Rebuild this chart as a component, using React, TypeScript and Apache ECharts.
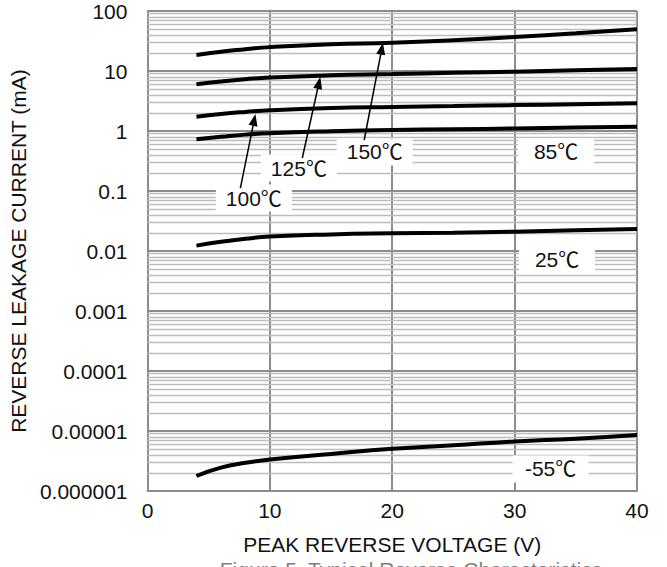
import React, { useEffect, useRef } from "react";
import * as echarts from "echarts";

// Peak reverse voltage (V)
const voltages = [4, 6, 8, 10, 15, 20, 25, 30, 35, 40];
// Reverse leakage current (mA) per temperature
const temp150 = [18.5, 21, 23, 25, 28, 29.5, 32.5, 37, 42.5, 49.5];
const temp125 = [6.0, 6.7, 7.3, 7.8, 8.5, 8.9, 9.35, 9.75, 10.3, 10.8];
const temp100 = [1.73, 1.92, 2.08, 2.22, 2.42, 2.52, 2.6, 2.7, 2.8, 2.9];
const temp85 = [0.73, 0.8, 0.87, 0.92, 0.99, 1.04, 1.07, 1.1, 1.14, 1.18];
const temp25 = [0.0123, 0.0143, 0.016, 0.0174, 0.0189, 0.0197, 0.0202, 0.021, 0.0221, 0.0233];
const tempM55 = [1.78e-6, 2.45e-6, 2.95e-6, 3.35e-6, 4.15e-6, 5.05e-6, 5.8e-6, 6.7e-6, 7.45e-6, 8.6e-6];
const seriesNames = ["150℃", "125℃", "100℃", "85℃", "25℃", "-55℃"];

const xTickLabels = ["0", "10", "20", "30", "40"];
const yTickLabels = ["0.000001", "0.00001", "0.0001", "0.001", "0.01", "0.1", "1", "10", "100"];

// Annotation labels (data coordinates of label centres)
const labelTexts = ["150℃", "125℃", "100℃", "85℃", "25℃", "-55℃"];
const labelX = [18.57, 12.37, 8.69, 33.39, 33.47, 32.94];
const labelY = [0.447, 0.2416, 0.0764, 0.455, 0.00708, 2.33e-6];

// Arrows: tail -> tip (data coordinates)
const arrowFromX = [17.71, 12.65, 7.59];
const arrowFromY = [0.708, 0.355, 0.112];
const arrowToX = [19.24, 14.12, 8.82];
const arrowToY = [29.6, 7.94, 1.92];

const FONT = "'Liberation Sans', Arial, 'Noto Sans CJK JP', sans-serif";

export default function App() {
  const ref = useRef<HTMLDivElement>(null);
  useEffect(() => {
    document.body.style.margin = "0";
    const chart = echarts.init(ref.current!, null, { renderer: "svg" });

    const minorValues: number[] = [];
    for (let e = -6; e < 2; e++) {
      for (let m = 2; m <= 9; m++) minorValues.push(m * Math.pow(10, e));
    }
    const allData = [temp150, temp125, temp100, temp85, temp25, tempM55];
    const curves = allData.map((d, i) => ({
      type: "line",
      name: seriesNames[i],
      data: voltages.map((v, j) => [v, d[j]]),
      smooth: 0.5,
      symbol: "none",
      showSymbol: false,
      silent: true,
      z: 5,
      lineStyle: { color: "#000", width: 4 },
    }));

    chart.setOption({
      animation: false,
      grid: { left: 147, right: 30, top: 11, bottom: 76 },
      xAxis: {
        type: "value",
        min: 0,
        max: 40,
        interval: 10,
        name: "PEAK REVERSE VOLTAGE (V)",
        nameLocation: "middle",
        nameGap: 43,
        nameTextStyle: { fontSize: 21, color: "#111", fontFamily: FONT },
        axisLine: { show: true, lineStyle: { color: "#8c8c8c", width: 2 } },
        axisTick: { show: false },
        axisLabel: {
          margin: 9,
          fontSize: 21,
          color: "#111",
          fontFamily: FONT,
          formatter: (v: number) => xTickLabels[Math.round(v / 10)] ?? "",
        },
        splitLine: { show: true, lineStyle: { color: "#8c8c8c", width: 2 } },
      },
      yAxis: {
        type: "log",
        logBase: 10,
        min: 1e-6,
        max: 100,
        interval: 1,
        splitNumber: 8,
        name: "REVERSE LEAKAGE CURRENT (mA)",
        nameLocation: "middle",
        nameGap: 108,
        nameTextStyle: { fontSize: 21, color: "#111", fontFamily: FONT },
        axisLine: { show: true, lineStyle: { color: "#8c8c8c", width: 2 } },
        axisTick: { show: false },
        axisLabel: {
          margin: 20,
          fontSize: 21,
          color: "#111",
          fontFamily: FONT,
          formatter: (v: number) => yTickLabels[Math.round(Math.log10(v)) + 6] ?? "",
        },
        splitLine: { show: true, lineStyle: { color: "#8c8c8c", width: 2 } },
      },
      series: [
        {
          type: "line",
          data: [],
          z: 1,
          silent: true,
          markLine: {
            symbol: "none",
            silent: true,
            animation: false,
            precision: 12,
            label: { show: false },
            lineStyle: { color: "#bdbdbd", width: 1.4, type: "solid" },
            emphasis: { disabled: true },
            data: minorValues.map((v) => ({ yAxis: v })),
          },
        },
        ...curves,
      ],
    });

    const px = (x: number, y: number) =>
      chart.convertToPixel({ gridIndex: 0 }, [x, y]) as number[];

    const graphics: any[] = [];
    labelTexts.forEach((t, i) => {
      const [cx, cy] = px(labelX[i], labelY[i]);
      graphics.push({
        type: "rect",
        z: 50,
        silent: true,
        shape: { x: cx - 38, y: cy - 13.5, width: 76, height: 27 },
        style: { fill: "#fff" },
      });
      graphics.push({
        type: "text",
        z: 51,
        silent: true,
        x: cx,
        y: cy,
        style: {
          text: t,
          fontSize: 21,
          fontFamily: FONT,
          fill: "#111",
          align: "center",
          verticalAlign: "middle",
        },
      });
    });
    arrowFromX.forEach((_, i) => {
      const [x1, y1] = px(arrowFromX[i], arrowFromY[i]);
      const [x2, y2] = px(arrowToX[i], arrowToY[i]);
      const dx = x2 - x1;
      const dy = y2 - y1;
      const len = Math.sqrt(dx * dx + dy * dy);
      const ux = dx / len;
      const uy = dy / len;
      const hl = 12;
      const hw = 4.5;
      const bx = x2 - ux * hl;
      const by = y2 - uy * hl;
      graphics.push({
        type: "line",
        z: 52,
        silent: true,
        shape: { x1, y1, x2: bx + ux * 2, y2: by + uy * 2 },
        style: { stroke: "#000", lineWidth: 1.5 },
      });
      graphics.push({
        type: "polygon",
        z: 52,
        silent: true,
        shape: {
          points: [
            [x2, y2],
            [bx - uy * hw, by + ux * hw],
            [bx + uy * hw, by - ux * hw],
          ],
        },
        style: { fill: "#000" },
      });
    });
    graphics.push({
      type: "text",
      z: 51,
      silent: true,
      x: 411,
      y: 559,
      style: {
        text: "Figure 5. Typical Reverse Characteristics",
        fontSize: 21,
        fontFamily: FONT,
        fill: "#7f7f7f",
        align: "center",
        verticalAlign: "top",
      },
    });
    chart.setOption({ graphic: graphics });

    return () => chart.dispose();
  }, []);
  return (
    <div
      ref={ref}
      style={{ position: "absolute", left: 0, top: 0, width: 667, height: 567 }}
    />
  );
}
